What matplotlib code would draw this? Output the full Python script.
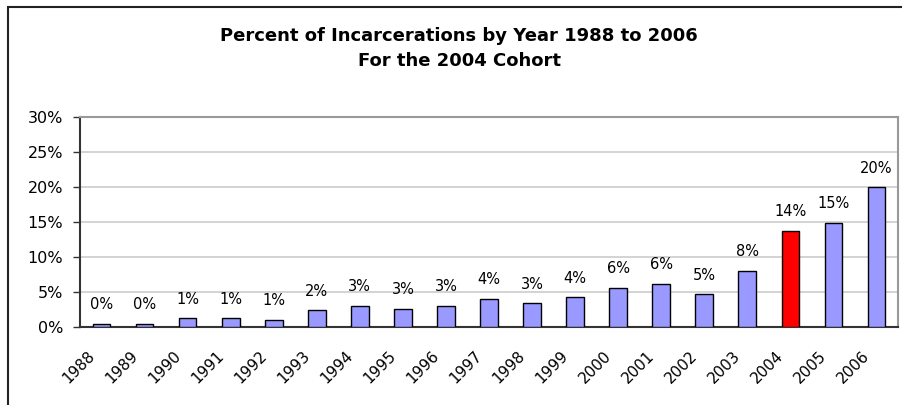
import matplotlib
matplotlib.use("Agg")
import matplotlib.pyplot as plt
import matplotlib.transforms as mtransforms
from matplotlib.patches import Rectangle

plt.rcParams['font.family'] = ['DejaVu Sans']

years = ['1988', '1989', '1990', '1991', '1992', '1993', '1994', '1995', '1996', '1997',
         '1998', '1999', '2000', '2001', '2002', '2003', '2004', '2005', '2006']
percents = [0.4, 0.4, 1.2, 1.2, 1.0, 2.3, 2.95, 2.55, 2.95, 3.95,
            3.35, 4.2, 5.5, 6.1, 4.6, 8.0, 13.7, 14.8, 19.9]
highlight = '2004'
title = 'Percent of Incarcerations by Year 1988 to 2006\nFor the 2004 Cohort'

fig = plt.figure(figsize=(9.02, 4.06), dpi=100)
W, H = 902, 406
ax = fig.add_axes([80 / W, 1 - 327.5 / H, (898 - 80) / W, (327.5 - 117.5) / H])

colors = ['#ff0000' if y == highlight else '#9999ff' for y in years]
x = list(range(len(years)))
bars = ax.bar(x, percents, width=0.41, color=colors, edgecolor='black', linewidth=1.0, zorder=3)

for xi, v in zip(x, percents):
    ax.annotate('%d%%' % int(v + 0.5), (xi, v), xytext=(0, 9), textcoords='offset points',
                ha='center', va='bottom', fontsize=10.5)

ax.set_xlim(-0.5, len(years) - 0.5)
ax.set_ylim(0, 30)
ax.set_yticks(range(0, 31, 5))
ax.set_yticklabels(['%d%%' % t for t in range(0, 31, 5)], fontsize=11.5)
ax.set_xticks(x)
ax.set_xticklabels(years, rotation=45, ha='right', va='top', fontsize=11)
ax.tick_params(axis='x', length=0, pad=15)
ax.tick_params(axis='y', length=5, width=1, color='#333333', pad=7)
shift = mtransforms.ScaledTranslation(-4 / 100, 0, fig.dpi_scale_trans)
for lab in ax.get_xticklabels():
    lab.set_transform(lab.get_transform() + shift)
ax.yaxis.grid(True, color='#cccccc', linewidth=1.2, zorder=0)
ax.set_axisbelow(True)

for s in ['top', 'right']:
    ax.spines[s].set_color('#999999')
    ax.spines[s].set_linewidth(1.5)
for s in ['left', 'bottom']:
    ax.spines[s].set_color('#333333')
    ax.spines[s].set_linewidth(1.5)

fig.text(459 / W, 1 - 48.5 / H, title, ha='center', va='center', fontsize=13,
         fontweight='bold', linespacing=1.5)

fig.patches.append(Rectangle((8 / W, -0.1), 1.2, 1 - 7.5 / H + 0.1, transform=fig.transFigure,
                             fill=False, edgecolor='#222222', linewidth=1.5))

fig.savefig('out.png', dpi=100)
